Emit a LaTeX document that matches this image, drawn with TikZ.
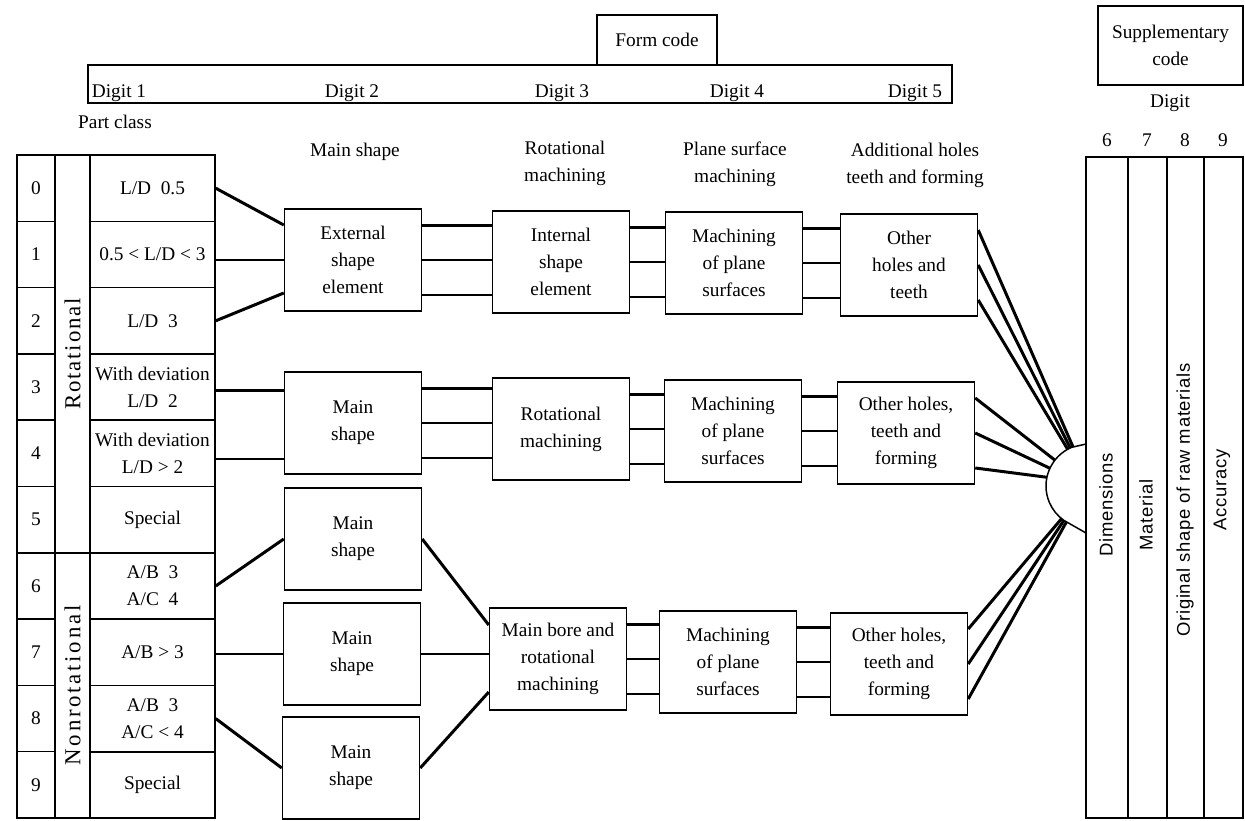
\documentclass[tikz,border=0pt]{standalone}
\usepackage{fontspec}
\setmainfont{Liberation Serif}
\newfontfamily\sansf{Liberation Sans}
\usepackage{tikz}

\begin{document}
\begin{tikzpicture}[
    x=0.02cm, y=-0.02cm,
    every node/.style={font=\fontsize{11}{15.5}\selectfont},
    caixa/.style={draw, line width=0.85pt, align=center, minimum width=2.74cm, minimum height=2.04cm, inner sep=1pt},
    num/.style={draw, line width=0.85pt, minimum width=0.76cm, minimum height=1.326cm, inner sep=0pt},
    cel/.style={draw, line width=0.85pt, minimum width=2.5cm, minimum height=1.326cm, inner sep=0pt, align=center},
    faixa/.style={draw, line width=0.85pt, rotate=90, minimum height=0.7cm, inner sep=0pt},
    moldura/.style={draw, line width=1.6pt, align=center, inner sep=0pt},
    liga/.style={draw, line width=1.7pt},
    grade/.style={line width=0.85pt},
    vert/.style={rotate=90, font=\sansf\fontsize{10.5}{12}\selectfont\addfontfeatures{LetterSpace=4}},
]
\useasboundingbox (0,0) rectangle (1245,821);

% Código de forma
\node[moldura, minimum width=17.28cm, minimum height=0.76cm] (barra) at (520,84) {};
\node[moldura, minimum width=2.4cm, minimum height=1.0cm] (forma) at (657,40) {Form code};
\node[anchor=base] (d1) at (119,98) {Digit 1};
\node[anchor=base] (d2) at (352,98) {Digit 2};
\node[anchor=base] (d3) at (562,98) {Digit 3};
\node[anchor=base] (d4) at (737,98) {Digit 4};
\node[anchor=base] (d5) at (915,98) {Digit 5};

% Cabeçalhos
\node (parte) at (115,122) {Part class};
\node (h2) at (355,152) {Main shape};
\node[align=center] (h3) at (565,163) {Rotational\\machining};
\node[align=center] (h4) at (735,164) {Plane surface\\machining};
\node[align=center] (h5) at (915,165) {Additional holes\\teeth and forming};

% Tabela da classe
\foreach \k in {0,...,9}
    \node[num] (n\k) at (36,{188.15+66.3*\k}) {\k};
\node[cel] (r0) at (152.5,188.2) {L/D\enspace 0.5};
\node[cel] (r1) at (152.5,254.5) {0.5 < L/D < 3};
\node[cel] (r2) at (152.5,320.8) {L/D\enspace 3};
\node[cel] (r3) at (152.5,387.1) {With deviation\\L/D\enspace 2};
\node[cel] (r4) at (152.5,453.4) {With deviation\\L/D > 2};
\node[cel] (r5) at (152.5,519.7) {Special};
\node[cel] (r6) at (152.5,586.0) {A/B\enspace 3\\A/C\enspace 4};
\node[cel] (r7) at (152.5,652.3) {A/B > 3};
\node[cel] (r8) at (152.5,718.6) {A/B\enspace 3\\A/C < 4};
\node[cel] (r9) at (152.5,784.9) {Special};
\node[faixa, minimum width=7.956cm, font=\fontsize{13}{15}\selectfont\addfontfeatures{LetterSpace=8}] (rot) at (72.5,353.9) {Rotational};
\node[faixa, minimum width=5.304cm, font=\fontsize{13}{15}\selectfont\addfontfeatures{LetterSpace=12}] (nrot) at (72.5,685.4) {Nonrotational};

% Dígito 2
\node[caixa] (ext) at (353,260) {External\\shape\\element};
\node[caixa] (ms1) at (353,423) {Main\\shape};
\node[caixa] (ms2) at (353,539) {Main\\shape};
\node[caixa] (ms3) at (352,654) {Main\\shape};
\node[caixa] (ms4) at (351,768) {Main\\shape};

% Dígitos 3, 4 e 5
\node[caixa] (int) at (561,262) {Internal\\shape\\element};
\node[caixa] (rotm) at (561,429) {Rotational\\machining};
\node[caixa] (bore) at (558,659) {Main bore and\\rotational\\machining};
\node[caixa] (plan1) at (734,263) {Machining\\of plane\\surfaces};
\node[caixa] (plan2) at (733,431) {Machining\\of plane\\surfaces};
\node[caixa] (plan3) at (728,662) {Machining\\of plane\\surfaces};
\node[caixa] (furo1) at (909,265) {Other\\holes and\\teeth};
\node[caixa] (furo2) at (906,433) {Other holes,\\teeth and\\forming};
\node[caixa] (furo3) at (899,664) {Other holes,\\teeth and\\forming};

% Ligações da tabela
\draw[liga] (r0.east) -- ([yshift=0.7cm]ext.west);
\draw[liga] (r1.east |- ext.west) -- (ext.west);
\draw[liga] (r2.east) -- ([yshift=-0.66cm]ext.west);
\draw[liga] ([yshift=0.66cm]ms1.west) -- ([yshift=0.66cm]ms1.west -| r3.east);
\draw[liga] ([yshift=-0.72cm]ms1.west) -- ([yshift=-0.72cm]ms1.west -| r4.east);
\draw[liga] (r6.east) -- (ms2.west);
\draw[liga] (ms3.west) -- (ms3.west -| r7.east);
\draw[liga] (r8.east) -- (ms4.west);
\draw[liga] (ms2.east) -- ([yshift=0.68cm]bore.west);
\draw[liga] (ms3.east) -- (ms3.east -| bore.west);
\draw[liga] (ms4.east) -- ([yshift=-0.66cm]bore.west);

% Ligações triplas
\foreach \a/\b in {ext/int, int/plan1, plan1/furo1, ms1/rotm, rotm/plan2, plan2/furo2, bore/plan3, plan3/furo3}
    \foreach \d in {-0.7cm,0cm,0.7cm}
        \draw[liga] ([yshift=\d]\a.east) -- ([yshift=\d]\a.east -| \b.west);

% Código suplementar
\node[moldura, minimum width=2.9cm, minimum height=1.58cm] (supl) at (1170.5,45.5) {Supplementary\\code};
\node (dig) at (1170,103) {Digit};
\node (c6) at (1107,140) {6};
\node (c7) at (1147,140) {7};
\node (c8) at (1185,140) {8};
\node (c9) at (1223,140) {9};
\draw[grade] (1086,157) rectangle (1243,818);
\draw[grade] (1128,157) -- (1128,818) (1167,157) -- (1167,818) (1204,157) -- (1204,818);
\node[vert] (dim) at (1106,505) {Dimensions};
\node[vert] (mat) at (1146,515) {Material};
\node[vert] (orig) at (1185,500) {Original shape of raw materials};
\node[vert] (acc) at (1222,490) {Accuracy};

% Semicírculo de junção
\coordinate (hub) at (1088,486);
\coordinate (ht) at ([shift={(113:0.84cm)}]hub);
\coordinate (hb) at ([shift={(235:0.84cm)}]hub);
\draw[grade] (1086,444) -- (ht) arc[start angle=113, end angle=235, radius=0.84cm] -- (1086,533);
\foreach \d/\g in {0.7cm/111, 0cm/115, -0.7cm/119}
    \draw[liga] ([yshift=\d]furo1.east) -- ([shift={(\g:0.84cm)}]hub);
\foreach \d/\g in {0.7cm/142, 0cm/155, -0.7cm/168}
    \draw[liga] ([yshift=\d]furo2.east) -- ([shift={(\g:0.84cm)}]hub);
\foreach \d/\g in {0.7cm/231, 0cm/235, -0.7cm/239}
    \draw[liga] ([yshift=\d]furo3.east) -- ([shift={(\g:0.84cm)}]hub);

\end{tikzpicture}
\end{document}
